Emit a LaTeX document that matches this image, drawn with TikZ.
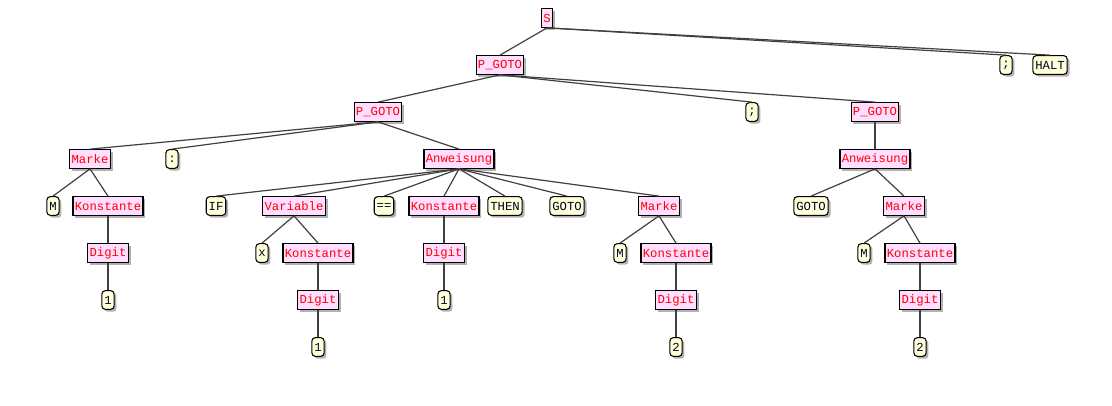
\documentclass[tikz,border=0pt]{standalone}
\usepackage{fontspec}
\newfontfamily\codefont{Liberation Mono}
\usepackage{tikz}
\usetikzlibrary{shadows}

\definecolor{ntpink}{RGB}{255,222,255}
\definecolor{tyellow}{RGB}{255,255,218}
\definecolor{edgegray}{RGB}{64,64,64}

\begin{document}
\begin{tikzpicture}[
  x=0.75pt, y=-0.75pt,
  font=\codefont\fontsize{9.2pt}{10pt}\selectfont,
  ntnode/.style={draw=black, fill=ntpink, text=red, inner xsep=1.4pt, inner ysep=0pt,
    minimum height=14pt, line width=0.8pt,
    drop shadow={shadow xshift=1.8pt, shadow yshift=-1.8pt, fill=gray!60, opacity=1}},
  tnode/.style={draw=black, fill=tyellow, text=black!85!blue, rounded corners=2.5pt,
    inner xsep=1.8pt, inner ysep=0pt, minimum height=14pt, line width=0.8pt,
    drop shadow={shadow xshift=1.8pt, shadow yshift=-1.8pt, fill=gray!60, opacity=1}},
  treeedge/.style={draw=edgegray, line width=0.9pt}
]
  \useasboundingbox (0,0) rectangle (1112,406);
  % row 0 and 1
  \node[ntnode] (nS) at (547,18) {S};
  \node[ntnode] (nPg1) at (500,65) {P\_GOTO};
  \node[tnode] (nSemiA) at (1006,65) {;};
  \node[tnode] (nHalt) at (1050,65) {HALT};
  % row 2
  \node[ntnode] (nPg2) at (378,112) {P\_GOTO};
  \node[tnode] (nSemiB) at (752,112) {;};
  \node[ntnode] (nPg3) at (875,112) {P\_GOTO};
  % row 3
  \node[ntnode] (nMarke1) at (90,159) {Marke};
  \node[tnode] (nColon) at (172,159) {:};
  \node[ntnode] (nAnw1) at (459,159) {Anweisung};
  \node[ntnode] (nAnw2) at (875,159) {Anweisung};
  % row 4
  \node[tnode] (nM1) at (53,206) {M};
  \node[ntnode] (nKon1) at (108,206) {Konstante};
  \node[tnode] (nIf) at (216,206) {IF};
  \node[ntnode] (nVar) at (294,206) {Variable};
  \node[tnode] (nEq) at (384,206) {==};
  \node[ntnode] (nKon2) at (444,206) {Konstante};
  \node[tnode] (nThen) at (505,206) {THEN};
  \node[tnode] (nGoto1) at (567,206) {GOTO};
  \node[ntnode] (nMarke2) at (659,206) {Marke};
  \node[tnode] (nGoto2) at (811,206) {GOTO};
  \node[ntnode] (nMarke3) at (904,206) {Marke};
  % row 5
  \node[ntnode] (nDig1) at (108,253) {Digit};
  \node[tnode] (nX) at (262,253) {x};
  \node[ntnode] (nKon3) at (318,253) {Konstante};
  \node[ntnode] (nDig2) at (444,253) {Digit};
  \node[tnode] (nM2) at (620,253) {M};
  \node[ntnode] (nKon4) at (676,253) {Konstante};
  \node[tnode] (nM3) at (864,253) {M};
  \node[ntnode] (nKon5) at (920,253) {Konstante};
  % row 6 and 7
  \node[tnode] (nOne1) at (108,300) {1};
  \node[ntnode] (nDig3) at (318,300) {Digit};
  \node[tnode] (nOne2) at (444,300) {1};
  \node[ntnode] (nDig4) at (676,300) {Digit};
  \node[ntnode] (nDig5) at (920,300) {Digit};
  \node[tnode] (nOne3) at (318,347) {1};
  \node[tnode] (nTwo1) at (676,347) {2};
  \node[tnode] (nTwo2) at (920,347) {2};

  % edges, parent bottom to child top
  \draw[treeedge] (nS.south) -- (nPg1.north);
  \draw[treeedge] (nS.south) -- (nSemiA.north);
  \draw[treeedge] (nS.south) -- (nHalt.north);
  \draw[treeedge] (nPg1.south) -- (nPg2.north);
  \draw[treeedge] (nPg1.south) -- (nSemiB.north);
  \draw[treeedge] (nPg1.south) -- (nPg3.north);
  \draw[treeedge] (nPg2.south) -- (nMarke1.north);
  \draw[treeedge] (nPg2.south) -- (nColon.north);
  \draw[treeedge] (nPg2.south) -- (nAnw1.north);
  \draw[treeedge] (nPg3.south) -- (nAnw2.north);
  \draw[treeedge] (nMarke1.south) -- (nM1.north);
  \draw[treeedge] (nMarke1.south) -- (nKon1.north);
  \draw[treeedge] (nAnw1.south) -- (nIf.north);
  \draw[treeedge] (nAnw1.south) -- (nVar.north);
  \draw[treeedge] (nAnw1.south) -- (nEq.north);
  \draw[treeedge] (nAnw1.south) -- (nKon2.north);
  \draw[treeedge] (nAnw1.south) -- (nThen.north);
  \draw[treeedge] (nAnw1.south) -- (nGoto1.north);
  \draw[treeedge] (nAnw1.south) -- (nMarke2.north);
  \draw[treeedge] (nAnw2.south) -- (nGoto2.north);
  \draw[treeedge] (nAnw2.south) -- (nMarke3.north);
  \draw[treeedge] (nKon1.south) -- (nDig1.north);
  \draw[treeedge] (nVar.south) -- (nX.north);
  \draw[treeedge] (nVar.south) -- (nKon3.north);
  \draw[treeedge] (nKon2.south) -- (nDig2.north);
  \draw[treeedge] (nMarke2.south) -- (nM2.north);
  \draw[treeedge] (nMarke2.south) -- (nKon4.north);
  \draw[treeedge] (nMarke3.south) -- (nM3.north);
  \draw[treeedge] (nMarke3.south) -- (nKon5.north);
  \draw[treeedge] (nDig1.south) -- (nOne1.north);
  \draw[treeedge] (nKon3.south) -- (nDig3.north);
  \draw[treeedge] (nDig2.south) -- (nOne2.north);
  \draw[treeedge] (nKon4.south) -- (nDig4.north);
  \draw[treeedge] (nKon5.south) -- (nDig5.north);
  \draw[treeedge] (nDig3.south) -- (nOne3.north);
  \draw[treeedge] (nDig4.south) -- (nTwo1.north);
  \draw[treeedge] (nDig5.south) -- (nTwo2.north);
\end{tikzpicture}
\end{document}
